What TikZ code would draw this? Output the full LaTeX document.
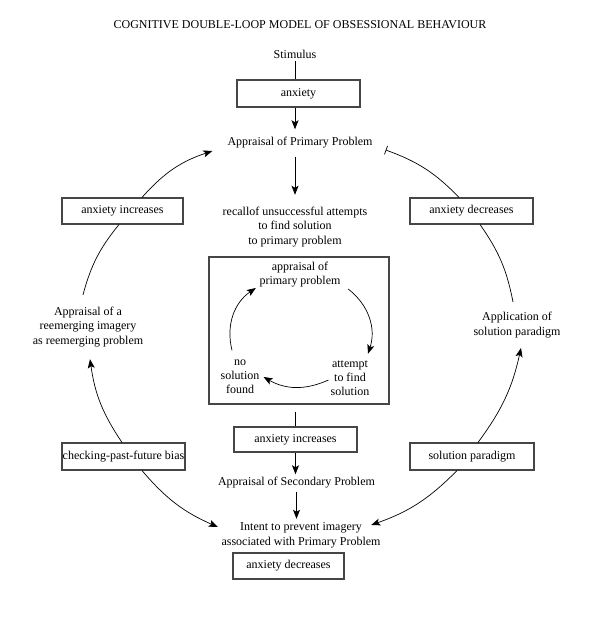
\documentclass[tikz,border=0pt]{standalone}
\usepackage{fontspec}
\setmainfont{Liberation Serif}
\usepackage{tikz}
\usetikzlibrary{arrows.meta}
\definecolor{boxline}{RGB}{70,70,70}

\begin{document}
\begin{tikzpicture}[x=1pt,y=1pt,
  font=\fontsize{12}{14.5}\selectfont,
  lbl/.style={align=center,inner xsep=2pt,inner ysep=#1},
  lbl/.default=2pt,
  card/.style={rectangle,draw=boxline,line width=1.1pt,inner sep=0pt,
    minimum width=#1,minimum height=26pt},
  card/.default=123pt,
  flow/.style={-{Stealth[length=9pt,width=7pt,inset=2pt]},line width=0.7pt},
  link/.style={line width=0.7pt}]
\useasboundingbox (0,0) rectangle (599,617);

\node[lbl] (title) at (300,592) {COGNITIVE DOUBLE-LOOP MODEL OF OBSESSIONAL BEHAVIOUR};
\node[lbl=3pt] (stim) at (295,563) {Stimulus};
\node[card=123pt,minimum height=27pt] (anx1) at (298.5,523.5) {anxiety};
\node[lbl=8pt] (app1) at (300,474) {Appraisal of Primary Problem};
\node[lbl=12pt] (recall) at (295,390) {recallof unsuccessful attempts\\to find solution\\to primary problem};

% inner loop
\node[card=180pt,minimum height=147pt] (cbox) at (299,286.5) {};
\node[lbl,font=\fontsize{12}{14}\selectfont] (ip) at (300,342) {appraisal of\\primary problem};
\node[lbl,font=\fontsize{12}{14}\selectfont] (att) at (350,239) {attempt\\to find\\solution};
\node[lbl,font=\fontsize{12}{14}\selectfont] (nosol) at (240,240) {no\\solution\\found};

\node[card=123pt,minimum height=25pt] (anx2) at (295.5,177.5) {anxiety increases};
\node[lbl=3pt] (app2) at (296.5,134) {Appraisal of Secondary Problem};
\node[lbl=4pt] (intent) at (301,81.5) {Intent to prevent imagery\\associated with Primary Problem};
\node[card=111pt] (anx3) at (288.5,51) {anxiety decreases};

% left loop
\node[card=121pt] (anxL) at (122.5,406) {anxiety increases};
\node[lbl=12pt] (appL) at (88,290) {Appraisal of a\\reemerging imagery\\as reemerging problem};
\node[card=123pt,minimum height=27pt] (check) at (123.5,160.5) {checking-past-future bias};

% right loop
\node[card=123pt] (anxR) at (471.5,406) {anxiety decreases};
\node[lbl=10pt] (appR) at (517,292) {Application of\\solution paradigm};
\node[card=124pt,minimum height=27pt] (solR) at (472,160.5) {solution paradigm};

\draw[link] (stim) -- (stim |- anx1.north);
\draw[flow] (anx1.south -| stim) -- (app1.north -| stim);
\draw[flow] (app1.south -| recall) -- (recall.north);
\draw[link,shorten <=7pt] (cbox.south -| anx2) -- (anx2.north);
\draw[flow] (anx2) -- (anx2 |- app2.north);
\draw[flow] (app2) -- (app2 |- intent.north);

\draw[flow] ([xshift=19.5pt]anxL.north) to[bend left=15] ([shift={(-13pt,-8pt)}]app1.west);
\draw[link] ([xshift=-3.5pt]anxL.south) to[bend right=12] ([xshift=-5pt]appL.north);
\draw[flow] ([xshift=-1.5pt]check.north) to[bend left=13] ([xshift=2pt]appL.south);
\draw[flow] ([xshift=18.5pt]check.south) to[bend right=13] ([shift={(-1.5pt,8.5pt)}]intent.west);

\draw[-{Bar[width=9pt]},line width=0.7pt] ([xshift=-12.5pt]anxR.north) to[bend right=13] ([shift={(11pt,-7pt)}]app1.east);
\draw[link] ([xshift=8.5pt]anxR.south) to[bend left=12] ([xshift=-4pt]appR.north);
\draw[flow] ([xshift=6pt]solR.north) to[bend right=12] ([xshift=4pt]appR.south);
\draw[flow] ([xshift=-15pt]solR.south) to[bend left=13] ([shift={(-11.5pt,10.5pt)}]intent.east);

\draw[flow] ([shift={(5.5pt,-14pt)}]ip.east) to[bend left=35] ([shift={(18pt,4.6pt)}]att.north);
\draw[flow] ([yshift=-2pt]att.west) to[bend left=27] ([xshift=2pt]nosol.east);
\draw[flow] ([shift={(-8pt,7.6pt)}]nosol.north) to[bend left=35] ([shift={(-1.5pt,-13pt)}]ip.west);
\end{tikzpicture}
\end{document}
